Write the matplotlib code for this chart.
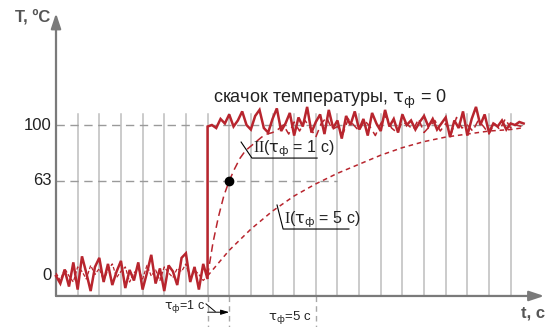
import numpy as np
import matplotlib.pyplot as plt

plt.rcParams['font.family'] = ['Liberation Sans Narrow', 'Liberation Sans', 'DejaVu Sans']
plt.rcParams['mathtext.fontset'] = 'custom'
plt.rcParams['mathtext.rm'] = 'Liberation Serif'
plt.rcParams['mathtext.sf'] = 'Liberation Sans Narrow'
plt.rcParams['mathtext.it'] = 'Liberation Sans Narrow:italic'

# --- data ---
step_t = 7          # moment of the temperature jump
tau1_t = 8          # step + 1 c
tau5_t = 12         # step + 5 c
level_ticks = [0, 63, 100]
tick_labels = ['0', '63', '100']
grid_t = list(range(1, 22))

# thick noisy signal before and after the jump (t 0..7 and 7..21.6)
solid_before = [0, -5, 4, -7, 9, -9, 13, 2, -10, 6, 12, -4, 8, -6, 3, 10, -8, 4,
                -3, 9, -9, 2, 14, -5, 5, -10, 7, 3, -6, 12, 15, -4, 6, -9, 8, -2]
solid_after = [99, 100, 98, 104, 101, 107, 99, 103, 109, 100, 97, 106, 110, 98, 95,
               104, 111, 96, 101, 108, 93, 105, 99, 112, 95, 102, 107, 94, 110, 98,
               103, 91, 106, 100, 109, 97, 104, 93, 108, 101, 96, 110, 99, 104, 95,
               107, 100, 103, 97, 102, 106, 99, 104, 97, 101, 105, 92, 103, 98, 109,
               93, 104, 112, 100, 107, 95, 101, 99, 103, 97, 101, 100, 102, 101]

# thin dashed (filtered) signal before the jump
dashed_before = [2, -3, 5, 0, -4, 6, 3, -2, 7, 1, 5, -3, 4, 8, -1, 3, 6, -4, 2, 5,
                 -2, 7, 0, 4, -3, 6, 2, -1, 5, 3, 8, -2, 4, 1, -3, 0]

# curve II (tau = 1 c), t = 7 .. 10 every 0.25, then noisy part up to 21.5
curve2_rise = [0, 22, 39, 53, 63, 71, 78, 83, 86, 89, 92, 94, 95]
curve2_noise = [97, 100, 94, 102, 96, 103, 98, 92, 101, 105, 97, 99, 94, 104, 100,
                96, 103, 99, 93, 101, 106, 98, 95, 102, 100, 97, 104, 95, 99, 103,
                96, 101, 94, 105, 98, 100, 96, 103, 99, 94, 101, 97, 104, 98, 100, 99]

# curve I (tau = 5 c)
curve1_t = [7, 8, 9, 10, 11, 12, 13, 14, 15, 16, 17, 18, 19, 20, 21, 21.5]
curve1_T = [0, 17, 31, 43, 53, 61, 68, 74, 80, 85, 89, 92, 94, 96, 97, 98]

red = '#b8252e'
grey = '#7a7a7a'

fig = plt.figure(figsize=(5.45, 3.27), dpi=100)
ax = fig.add_axes([0, 0, 1, 1])
ax.set_xlim(-2.587, 22.587)
ax.set_ylim(-33.8, 182.8)
ax.axis('off')

x_axis_T = -13.25

# vertical grid
for gt in grid_t:
    ax.plot([gt, gt], [x_axis_T, 107], color='#bdbdbd', lw=1.1, zorder=1)

# horizontal dashed levels
ax.plot([0, 21.6], [100, 100], color='#9a9a9a', lw=1.0, ls=(0, (6, 4)), zorder=1)
ax.plot([0, 13.0], [63, 63], color='#9a9a9a', lw=1.0, ls=(0, (6, 4)), zorder=1)

# dashed markers below axis
for vt in [step_t, tau1_t, tau5_t]:
    ax.plot([vt, vt], [x_axis_T, -34], color='#a8a8a8', lw=1.0, ls=(0, (4, 3)), zorder=1)

# axes with arrows
ax.annotate('', xy=(0, 174), xytext=(0, x_axis_T),
            arrowprops=dict(arrowstyle='-|>,head_length=0.9,head_width=0.3',
                            color=grey, lw=1.6, shrinkA=0, shrinkB=0))
ax.annotate('', xy=(22.55, x_axis_T), xytext=(0, x_axis_T),
            arrowprops=dict(arrowstyle='-|>,head_length=0.9,head_width=0.3',
                            color=grey, lw=1.6, shrinkA=0, shrinkB=0))

# tick labels
for v, lab in zip(level_ticks, tick_labels):
    ax.text(-0.2, v, lab, ha='right', va='center', fontsize=12, color='#222222')

ax.text(-0.25, 171.5, 'T, ºC', ha='right', va='center', fontsize=12,
        fontweight='bold', color='#555555')
ax.text(21.5, -24.5, 't, с', ha='left', va='center', fontsize=12,
        fontweight='bold', color='#555555')

# signals
t_before = np.linspace(0, step_t, len(solid_before))
t_after = np.linspace(step_t, 21.6, len(solid_after))
ax.plot(np.concatenate([t_before, t_after]), solid_before + solid_after,
        color=red, lw=1.8, zorder=4, solid_joinstyle='miter')

td_before = np.linspace(0, step_t, len(dashed_before))
ax.plot(td_before, dashed_before, color=red, lw=0.9, ls=(0, (3, 1.5)), zorder=3)

t_rise = np.linspace(step_t, 10, len(curve2_rise))
t_noise = np.linspace(10.25, 21.5, len(curve2_noise))
ax.plot(np.concatenate([t_rise, t_noise]), curve2_rise + curve2_noise,
        color=red, lw=1.1, ls=(0, (5, 3)), zorder=3)

ax.plot(curve1_t, curve1_T, color=red, lw=1.1, ls=(0, (3, 2.5)), zorder=3)

ax.plot([tau1_t], [63], 'o', color='black', ms=6, zorder=5)

# labels with leaders
ax.text(7.25, 117, r'скачок температуры, $\mathsf{τ}_\mathsf{ф}$ = 0', ha='left',
        va='center', fontsize=13, color='#222222')

ax.plot([8.55, 9.05, 12.06], [88.7, 78.1, 78.1], color='black', lw=0.8, zorder=5)
ax.text(9.12, 82, r'$\mathrm{II}$($\mathsf{τ}_\mathsf{ф}$ = 1 с)', ha='left',
        va='baseline', fontsize=11.5, color='#222222')

ax.plot([10.21, 10.49, 13.53], [47, 31.1, 31.1], color='black', lw=0.8, zorder=5)
ax.text(10.55, 35, r'$\mathrm{I}$($\mathsf{τ}_\mathsf{ф}$ = 5 с)', ha='left',
        va='baseline', fontsize=11.5, color='#222222')

# tau markers under the axis
ax.text(6.9, -20.5, r'$\mathsf{τ}_\mathsf{ф}$=1 с', ha='right', va='center',
        fontsize=9, color='#222222')
ax.plot([6.93, 7.35], [-18.5, -23.5], color='black', lw=0.7)
ax.annotate('', xy=(tau1_t, -24), xytext=(step_t, -24),
            arrowprops=dict(arrowstyle='-|>,head_length=0.5,head_width=0.15',
                            color='black', lw=0.7, shrinkA=0, shrinkB=0))
ax.text(10.8, -27.5, r'$\mathsf{τ}_\mathsf{ф}$=5 с', ha='center', va='center',
        fontsize=9.5, color='#222222')

fig.savefig('out.png', dpi=100)
